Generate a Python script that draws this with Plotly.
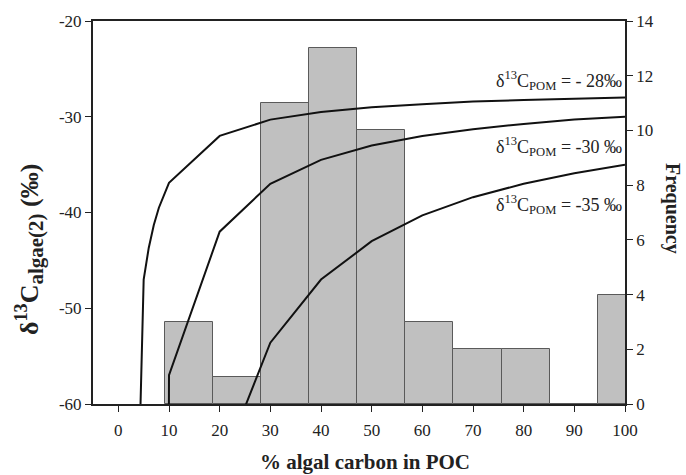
import plotly.graph_objects as go

# ---- data ----
bin_centers = [13.9, 23.4, 32.9, 42.4, 51.9, 61.4, 70.9, 80.4, 89.9, 99.4]
frequency = [3, 1, 11, 13, 10, 3, 2, 2, 0, 4]
bin_width = 9.5

pct_28 = [4, 5, 6, 7, 8, 9, 10, 20, 30, 40, 50, 60, 70, 80, 90, 100]
d13c_28 = [-68, -47.0, -43.7, -41.3, -39.5, -38.1, -36.9, -32.0, -30.3, -29.5,
           -29.0, -28.7, -28.4, -28.25, -28.1, -28.0]

pct_30 = [9.95, 10, 20, 30, 40, 50, 60, 70, 80, 90, 100]
d13c_30 = [-65, -57.0, -42.0, -37.0, -34.5, -33.0, -32.0, -31.3, -30.75, -30.3, -30.0]

pct_35 = [20, 30, 40, 50, 60, 70, 80, 90, 100]
d13c_35 = [-67, -53.6, -47.0, -43.0, -40.3, -38.4, -37.0, -35.9, -35.0]

x_ticks = [0, 10, 20, 30, 40, 50, 60, 70, 80, 90, 100]
x_ticktext = ["0", "10", "20", "30", "40", "50", "60", "70", "80", "90", "100"]
left_ticks = [-60, -50, -40, -30, -20]
left_ticktext = ["-60", "-50", "-40", "-30", "-20"]
right_ticks = [0, 2, 4, 6, 8, 10, 12, 14]
right_ticktext = ["0", "2", "4", "6", "8", "10", "12", "14"]

labels = ["δ<sup>13</sup>C<sub>POM</sub> = - 28‰",
          "δ<sup>13</sup>C<sub>POM</sub> = -30 ‰",
          "δ<sup>13</sup>C<sub>POM</sub> = -35 ‰"]

FONT = "Liberation Serif"

fig = go.Figure()

fig.add_trace(go.Bar(
    x=bin_centers, y=frequency, width=bin_width,
    marker=dict(color="#c0c0c0", line=dict(color="#5a5a5a", width=1)),
    yaxis="y", xaxis="x", showlegend=False,
))

for xs, ys in [(pct_28, d13c_28), (pct_30, d13c_30), (pct_35, d13c_35)]:
    fig.add_trace(go.Scatter(
        x=xs, y=ys, mode="lines", yaxis="y2", xaxis="x",
        line=dict(color="#111111", width=2), showlegend=False,
    ))

axis_common = dict(
    showgrid=False, zeroline=False, ticks="outside", ticklen=6,
    tickcolor="#222", tickwidth=1.3, showline=True, linecolor="#222",
    tickfont=dict(family=FONT, size=17, color="#222"),
)

fig.update_layout(
    width=686, height=475,
    margin=dict(l=93, r=61, t=21, b=71),
    paper_bgcolor="white", plot_bgcolor="white",
    bargap=0,
    xaxis=dict(range=[-5, 100], tickvals=x_ticks, ticktext=x_ticktext,
               linewidth=1.5, mirror=True, ticklabelstandoff=4, **axis_common),
    yaxis=dict(range=[0, 14], tickvals=right_ticks, ticktext=right_ticktext,
               side="right", linewidth=1.5, **axis_common),
    yaxis2=dict(range=[-60, -20], tickvals=left_ticks, ticktext=left_ticktext,
                side="left", overlaying="y", linewidth=2, **axis_common),
)

H = 475 - 21 - 71
W = 686 - 93 - 61
def px_x(p):
    return (p - 93) / W
def px_y(p):
    return (475 - 71 - p) / H

fig.add_annotation(text="<b>% algal carbon in POC</b>", xref="paper", yref="paper",
                   x=px_x(365), y=px_y(462), showarrow=False,
                   xanchor="center", yanchor="middle",
                   font=dict(family=FONT, size=21, color="#222"))
fig.add_annotation(
    text="<b>δ<sup>13</sup>C<sub><span style=\"font-size:21px\">algae(2)</span></sub> (‰)</b>",
    xref="paper", yref="paper",
    x=px_x(29), y=px_y(250), showarrow=False, textangle=-90,
    xanchor="center", yanchor="middle",
    font=dict(family=FONT, size=26, color="#222"))
fig.add_annotation(text="<b>Frequency</b>", xref="paper", yref="paper",
                   x=px_x(673), y=px_y(208), showarrow=False, textangle=90,
                   xanchor="center", yanchor="middle",
                   font=dict(family=FONT, size=20, color="#222"))

label_y = [80, 146, 205]
for txt, py in zip(labels, label_y):
    fig.add_annotation(text=txt, xref="paper", yref="paper",
                       x=px_x(624), y=px_y(py), showarrow=False,
                       xanchor="right", yanchor="middle",
                       font=dict(family=FONT, size=18, color="#222"))

fig.write_html("out.html")
